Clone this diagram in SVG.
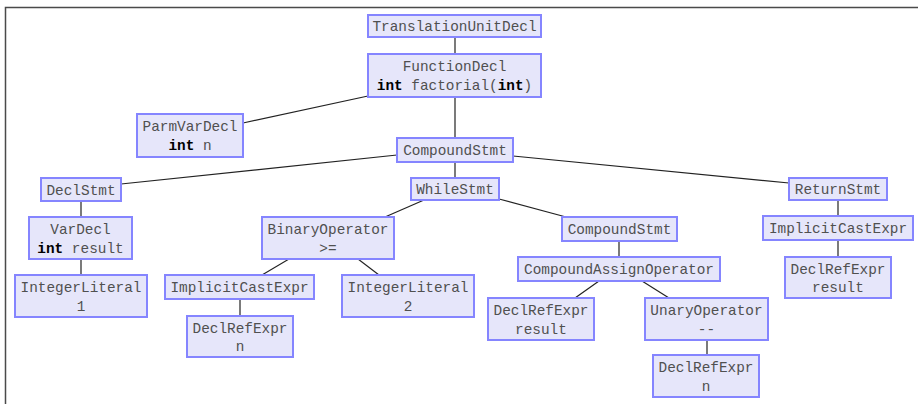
<svg xmlns="http://www.w3.org/2000/svg" width="918" height="404" viewBox="0 0 918 404">
  <style>
    .frame { fill: none; stroke: #4a4a4a; stroke-width: 1.5; }
    .node rect { fill: #e6e6fa; stroke: #8585ff; stroke-width: 2; }
    .node text { font-family: "Liberation Mono", "Courier New", monospace; font-size: 14.4px; fill: #505050; text-anchor: middle; }
    .node .kw { font-weight: bold; fill: #000; }
    .edges line { stroke: #222; stroke-width: 1.2; }
  </style>

  <!-- outer frame (runs off the right and bottom edges) -->
  <rect class="frame" x="5.5" y="7.5" width="1000" height="500"/>

  <!-- tree edges -->
  <g id="edges" class="edges">
    <line x1="455" y1="37" x2="455" y2="54"/>
    <line x1="368" y1="96" x2="243" y2="123"/>
    <line x1="455" y1="97" x2="455" y2="138"/>
    <line x1="397" y1="155" x2="121" y2="184"/>
    <line x1="455" y1="162" x2="455" y2="178"/>
    <line x1="513" y1="156" x2="789" y2="183"/>
    <line x1="81" y1="201" x2="81" y2="217"/>
    <line x1="81" y1="259" x2="81" y2="275"/>
    <line x1="424" y1="200" x2="385" y2="217"/>
    <line x1="499" y1="199" x2="566" y2="217"/>
    <line x1="289" y1="259" x2="262" y2="275"/>
    <line x1="358" y1="259" x2="379" y2="275"/>
    <line x1="240" y1="299" x2="240" y2="316"/>
    <line x1="619" y1="241" x2="619" y2="257"/>
    <line x1="599" y1="281" x2="575" y2="298"/>
    <line x1="642" y1="281" x2="669" y2="298"/>
    <line x1="707" y1="340" x2="707" y2="355"/>
    <line x1="838" y1="200" x2="838" y2="216"/>
    <line x1="838" y1="240" x2="838" y2="257"/>
  </g>

  <g id="translation-unit" class="node">
    <rect x="368" y="15" width="173" height="22"/>
    <text x="454.5" y="31">TranslationUnitDecl</text>
  </g>

  <g id="function-decl" class="node">
    <rect x="368" y="54" width="173" height="43"/>
    <text x="454.5" y="71">FunctionDecl</text>
    <text x="454.5" y="90"><tspan class="kw">int</tspan> factorial(<tspan class="kw">int</tspan>)</text>
  </g>

  <g id="parm-var-decl" class="node">
    <rect x="137" y="114" width="106" height="43"/>
    <text x="190" y="131">ParmVarDecl</text>
    <text x="190" y="150"><tspan class="kw">int</tspan> n</text>
  </g>

  <g id="body-compound" class="node">
    <rect x="397" y="138" width="116" height="24"/>
    <text x="455" y="155">CompoundStmt</text>
  </g>

  <g id="decl-stmt" class="node">
    <rect x="41" y="178" width="80" height="23"/>
    <text x="81" y="194.5">DeclStmt</text>
  </g>

  <g id="while-stmt" class="node">
    <rect x="411" y="178" width="88" height="22"/>
    <text x="455" y="194">WhileStmt</text>
  </g>

  <g id="return-stmt" class="node">
    <rect x="789" y="178" width="98" height="22"/>
    <text x="838" y="194">ReturnStmt</text>
  </g>

  <g id="var-decl" class="node">
    <rect x="29" y="217" width="103" height="42"/>
    <text x="80.5" y="234">VarDecl</text>
    <text x="80.5" y="253"><tspan class="kw">int</tspan> result</text>
  </g>

  <g id="binary-operator" class="node">
    <rect x="262" y="217" width="132" height="42"/>
    <text x="328" y="234">BinaryOperator</text>
    <text x="328" y="253">&gt;=</text>
  </g>

  <g id="loop-compound" class="node">
    <rect x="562" y="217" width="115" height="24"/>
    <text x="619.5" y="234">CompoundStmt</text>
  </g>

  <g id="return-cast" class="node">
    <rect x="763" y="216" width="150" height="24"/>
    <text x="838" y="233">ImplicitCastExpr</text>
  </g>

  <g id="integer-literal-1" class="node">
    <rect x="15" y="275" width="132" height="42"/>
    <text x="81" y="292">IntegerLiteral</text>
    <text x="81" y="311">1</text>
  </g>

  <g id="cond-cast" class="node">
    <rect x="165" y="275" width="149" height="24"/>
    <text x="239.5" y="292">ImplicitCastExpr</text>
  </g>

  <g id="integer-literal-2" class="node">
    <rect x="342" y="275" width="132" height="42"/>
    <text x="408" y="292">IntegerLiteral</text>
    <text x="408" y="311">2</text>
  </g>

  <g id="compound-assign" class="node">
    <rect x="518" y="257" width="202" height="24"/>
    <text x="619" y="274">CompoundAssignOperator</text>
  </g>

  <g id="return-ref" class="node">
    <rect x="785" y="257" width="106" height="41"/>
    <text x="838" y="274">DeclRefExpr</text>
    <text x="838" y="292">result</text>
  </g>

  <g id="cond-ref" class="node">
    <rect x="187" y="316" width="106" height="41"/>
    <text x="240" y="333">DeclRefExpr</text>
    <text x="240" y="351">n</text>
  </g>

  <g id="assign-ref" class="node">
    <rect x="488" y="298" width="106" height="42"/>
    <text x="541" y="315">DeclRefExpr</text>
    <text x="541" y="334">result</text>
  </g>

  <g id="unary-operator" class="node">
    <rect x="645" y="298" width="123" height="42"/>
    <text x="706.5" y="315">UnaryOperator</text>
    <text x="706.5" y="334">--</text>
  </g>

  <g id="decrement-ref" class="node">
    <rect x="653" y="355" width="106" height="42"/>
    <text x="706" y="372">DeclRefExpr</text>
    <text x="706" y="391">n</text>
  </g>
</svg>
